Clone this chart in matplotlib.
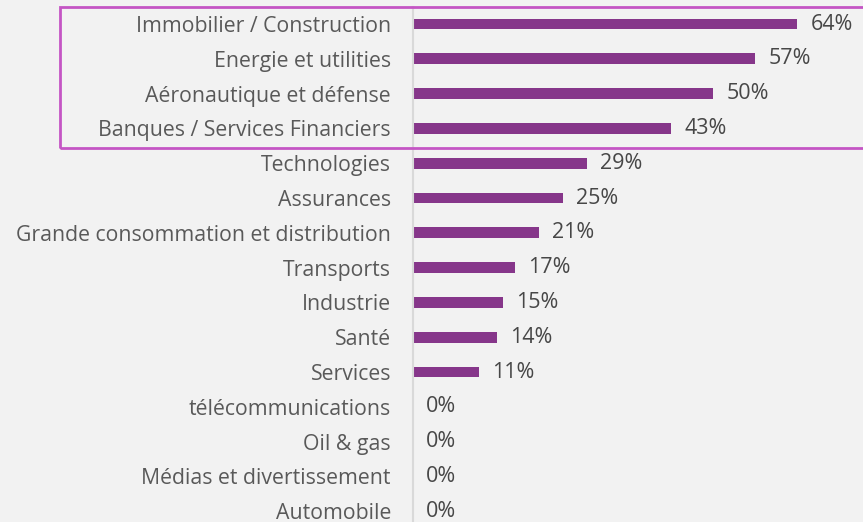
import matplotlib.pyplot as plt
from matplotlib.patches import Rectangle

secteurs = ["Immobilier / Construction", "Energie et utilities",
            "Aéronautique et défense", "Banques / Services Financiers",
            "Technologies", "Assurances",
            "Grande consommation et distribution", "Transports",
            "Industrie", "Santé", "Services", "télécommunications",
            "Oil & gas", "Médias et divertissement", "Automobile"]
pourcentages = [64, 57, 50, 43, 29, 25, 21, 17, 15, 14, 11, 0, 0, 0, 0]

fond = "#f2f2f2"
violet = "#86368a"
gris = "#595959"

plt.rcParams["font.family"] = ["Open Sans", "DejaVu Sans"]

W, H = 863, 522
fig = plt.figure(figsize=(W / 100, H / 100), dpi=100, facecolor=fond)

# axe en pixels : rangées espacées de ~34.8 px, 6 px par point de %
pas = 34.8
y0 = 24 - pas / 2
y1 = y0 + pas * len(secteurs)
x0 = 412.5
ax = fig.add_axes([x0 / W, 1 - y1 / H, (W - x0) / W, (y1 - y0) / H])
ax.set_facecolor(fond)

pos = range(len(secteurs))
ax.barh(pos, pourcentages, height=0.31, color=violet)
ax.set_xlim(0, (W - x0) / 6.0)
ax.set_ylim(len(secteurs) - 0.5, -0.5)

for i, v in enumerate(pourcentages):
    ax.text(v + 2.3, i, f"{v}%", va="center", ha="left", fontsize=15.5,
            color="#474747")

ax.set_yticks(list(pos))
ax.set_yticklabels(secteurs, fontsize=15.3, color=gris)
ax.tick_params(axis="y", length=0, pad=15.5)
ax.set_xticks([])
for s in ["top", "right", "bottom"]:
    ax.spines[s].set_visible(False)
ax.spines["left"].set_color("#d9d9d9")
ax.spines["left"].set_linewidth(1.5)

# cadre autour des quatre premiers secteurs
cadre = Rectangle((60 / W, 1 - 148 / H), 900 / W, 141 / H,
                  transform=fig.transFigure, fill=False,
                  edgecolor="#c455c4", linewidth=2)
fig.patches.append(cadre)

fig.savefig("out.png", dpi=100, facecolor=fond)
